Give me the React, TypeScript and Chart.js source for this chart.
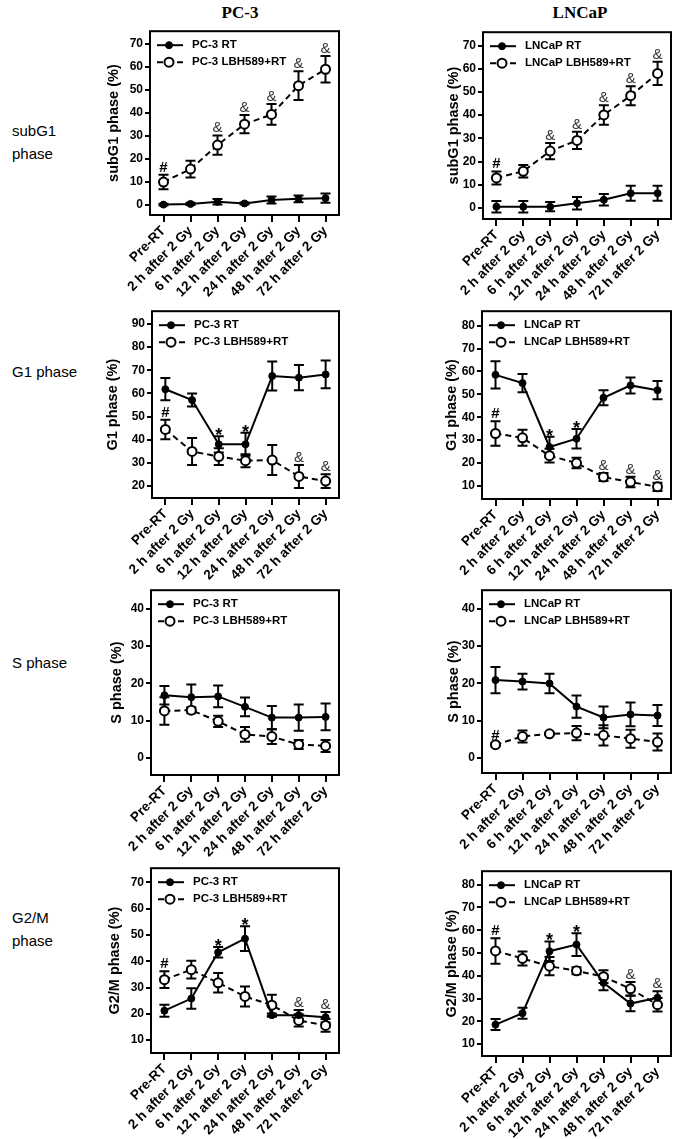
import React, { useEffect, useRef } from "react";
import { Chart, registerables } from "chart.js";
Chart.register(...registerables);

const FONT = '"Liberation Sans", Arial, sans-serif';

const categories = ["Pre-RT", "2 h after 2 Gy", "6 h after 2 Gy", "12 h after 2 Gy", "24 h after 2 Gy", "48 h after 2 Gy", "72 h after 2 Gy"];

// tick labels
const subG1Ticks = [0, 10, 20, 30, 40, 50, 60, 70];
const g1Pc3Ticks = [20, 30, 40, 50, 60, 70, 80, 90];
const g1LncapTicks = [10, 20, 30, 40, 50, 60, 70, 80];
const sTicks = [0, 10, 20, 30, 40];
const g2mPc3Ticks = [10, 20, 30, 40, 50, 60, 70];
const g2mLncapTicks = [10, 20, 30, 40, 50, 60, 70, 80];

const noMarks = ["", "", "", "", "", "", ""];

// subG1 PC-3
const pc3SubG1Rt = [0.2, 0.5, 1.4, 0.7, 2.2, 2.7, 3.0];
const pc3SubG1RtErr = [0.4, 0.5, 1.2, 0.4, 1.5, 1.5, 2.0];
const pc3SubG1Lbh = [10.0, 15.6, 26.0, 35.1, 39.3, 51.8, 58.9];
const pc3SubG1LbhErr = [3.1, 3.6, 4.2, 4.0, 4.5, 6.2, 5.7];
const pc3SubG1LbhMarks = ["#", "", "&", "&", "&", "&", "&"];

// subG1 LNCaP
const lncapSubG1Rt = [0.5, 0.5, 0.5, 2.0, 3.5, 6.3, 6.3];
const lncapSubG1RtErr = [2.5, 2.5, 2.0, 2.7, 2.5, 3.2, 3.2];
const lncapSubG1Lbh = [12.9, 15.8, 24.5, 29.1, 40.1, 48.4, 58.0];
const lncapSubG1LbhErr = [2.8, 2.7, 3.5, 3.7, 4.2, 4.1, 5.0];
const lncapSubG1LbhMarks = ["#", "", "&", "&", "&", "&", "&"];

// G1 PC-3
const pc3G1Rt = [61.8, 57.1, 38.0, 38.0, 67.5, 66.8, 68.2];
const pc3G1RtErr = [4.8, 2.8, 3.5, 5.0, 6.3, 5.5, 6.0];
const pc3G1Lbh = [44.4, 34.9, 32.7, 30.9, 31.2, 24.1, 22.1];
const pc3G1LbhErr = [4.2, 5.8, 3.6, 2.8, 6.5, 5.0, 3.0];
const pc3G1RtMarks = ["", "", "*", "*", "", "", ""];
const pc3G1LbhMarks = ["#", "", "", "", "", "&", "&"];

// G1 LNCaP
const lncapG1Rt = [58.5, 54.9, 27.0, 30.6, 48.5, 53.9, 51.8];
const lncapG1RtErr = [6.0, 4.0, 4.5, 4.3, 3.3, 3.5, 4.0];
const lncapG1Lbh = [32.9, 31.0, 23.2, 20.0, 13.9, 11.7, 9.6];
const lncapG1LbhErr = [5.3, 3.5, 3.0, 2.3, 1.7, 2.3, 1.8];
const lncapG1RtMarks = ["", "", "*", "*", "", "", ""];
const lncapG1LbhMarks = ["#", "", "", "", "&", "&", "&"];

// S PC-3
const pc3SRt = [16.8, 16.3, 16.5, 13.7, 10.8, 10.8, 11.0];
const pc3SRtErr = [2.5, 3.4, 2.9, 2.5, 3.1, 3.5, 3.6];
const pc3SLbh = [12.6, 12.8, 9.8, 6.3, 5.7, 3.6, 3.2];
const pc3SLbhErr = [3.7, 0.8, 1.5, 2.0, 2.0, 1.2, 1.6];

// S LNCaP
const lncapSRt = [20.9, 20.5, 20.0, 13.8, 10.9, 11.7, 11.4];
const lncapSRtErr = [3.5, 2.1, 2.6, 3.0, 2.9, 3.2, 2.8];
const lncapSLbh = [3.6, 5.8, 6.5, 6.7, 6.1, 5.2, 4.3];
const lncapSLbhErr = [0.4, 1.6, 0.3, 1.9, 2.7, 2.4, 2.3];
const lncapSLbhMarks = ["#", "", "", "", "", "", ""];

// G2/M PC-3
const pc3G2mRt = [21.2, 25.8, 43.4, 48.6, 19.5, 19.5, 18.7];
const pc3G2mRtErr = [2.3, 3.9, 2.0, 4.7, 0.6, 2.0, 2.0];
const pc3G2mLbh = [33.0, 36.8, 31.8, 26.6, 23.3, 17.5, 15.6];
const pc3G2mLbhErr = [3.2, 3.4, 3.7, 3.8, 4.0, 2.3, 2.4];
const pc3G2mRtMarks = ["", "", "*", "*", "", "", ""];
const pc3G2mLbhMarks = ["#", "", "", "", "", "&", "&"];

// G2/M LNCaP
const lncapG2mRt = [18.6, 23.6, 50.8, 53.7, 36.9, 27.8, 30.4];
const lncapG2mRtErr = [2.4, 2.4, 4.3, 5.0, 3.3, 3.4, 2.8];
const lncapG2mLbh = [50.9, 47.6, 44.2, 42.2, 39.6, 34.3, 27.3];
const lncapG2mLbhErr = [5.6, 3.1, 4.0, 1.5, 2.8, 3.0, 3.0];
const lncapG2mRtMarks = ["", "", "*", "*", "", "", ""];
const lncapG2mLbhMarks = ["#", "", "", "", "", "&", "&"];

const pc3Names = ["PC-3 RT", "PC-3 LBH589+RT"];
const lncapNames = ["LNCaP RT", "LNCaP LBH589+RT"];

// layout: box = [left, top, right, bottom] in page pixels
const panels = [
  { box: [150, 28, 339, 215], yMin: -4.3, yMax: 75.4, yW: 45, ticks: subG1Ticks, title: "subG1 phase (%)", names: pc3Names, rt: pc3SubG1Rt, rtErr: pc3SubG1RtErr, lbh: pc3SubG1Lbh, lbhErr: pc3SubG1LbhErr, rtMarks: noMarks, lbhMarks: pc3SubG1LbhMarks },
  { box: [483, 29, 671, 219], yMin: -4.8, yMax: 75.8, yW: 38, ticks: subG1Ticks, title: "subG1 phase (%)", names: lncapNames, rt: lncapSubG1Rt, rtErr: lncapSubG1RtErr, lbh: lncapSubG1Lbh, lbhErr: lncapSubG1LbhErr, rtMarks: noMarks, lbhMarks: lncapSubG1LbhMarks },
  { box: [152, 308, 339, 498], yMin: 14.8, yMax: 95.5, yW: 48, ticks: g1Pc3Ticks, title: "G1 phase (%)", names: pc3Names, rt: pc3G1Rt, rtErr: pc3G1RtErr, lbh: pc3G1Lbh, lbhErr: pc3G1LbhErr, rtMarks: pc3G1RtMarks, lbhMarks: pc3G1LbhMarks },
  { box: [482, 308, 671, 499], yMin: 4.3, yMax: 86.3, yW: 39, ticks: g1LncapTicks, title: "G1 phase (%)", names: lncapNames, rt: lncapG1Rt, rtErr: lncapG1RtErr, lbh: lncapG1Lbh, lbhErr: lncapG1LbhErr, rtMarks: lncapG1RtMarks, lbhMarks: lncapG1LbhMarks },
  { box: [151, 587, 339, 775], yMin: -4.6, yMax: 45, yW: 43, ticks: sTicks, title: "S phase (%)", names: pc3Names, rt: pc3SRt, rtErr: pc3SRtErr, lbh: pc3SLbh, lbhErr: pc3SLbhErr, rtMarks: noMarks, lbhMarks: noMarks },
  { box: [482, 587, 671, 773], yMin: -4.0, yMax: 45, yW: 37, ticks: sTicks, title: "S phase (%)", names: lncapNames, rt: lncapSRt, rtErr: lncapSRtErr, lbh: lncapSLbh, lbhErr: lncapSLbhErr, rtMarks: noMarks, lbhMarks: lncapSLbhMarks },
  { box: [151, 865, 339, 1053], yMin: 5.1, yMax: 75.4, yW: 45, ticks: g2mPc3Ticks, title: "G2/M phase (%)", names: pc3Names, rt: pc3G2mRt, rtErr: pc3G2mRtErr, lbh: pc3G2mLbh, lbhErr: pc3G2mLbhErr, rtMarks: pc3G2mRtMarks, lbhMarks: pc3G2mLbhMarks },
  { box: [482, 868, 671, 1056], yMin: 4.8, yMax: 85.9, yW: 39, ticks: g2mLncapTicks, title: "G2/M phase (%)", names: lncapNames, rt: lncapG2mRt, rtErr: lncapG2mRtErr, lbh: lncapG2mLbh, lbhErr: lncapG2mLbhErr, rtMarks: lncapG2mRtMarks, lbhMarks: lncapG2mLbhMarks },
];

const PT = 6, PR = 8, PB = 4, XH = 88;

const errorBarPlugin = {
  id: "errorBars",
  beforeDatasetsDraw(chart: any) {
    const ctx = chart.ctx;
    const y = chart.scales.y;
    ctx.save();
    ctx.strokeStyle = "#000";
    ctx.lineWidth = 2;
    ctx.setLineDash([]);
    chart.data.datasets.forEach((ds: any, di: number) => {
      const meta = chart.getDatasetMeta(di);
      ds.data.forEach((v: number, i: number) => {
        const e = ds.errors[i];
        const x = meta.data[i].x;
        const yt = y.getPixelForValue(v + e);
        const yb = y.getPixelForValue(v - e);
        ctx.beginPath();
        ctx.moveTo(x, yt); ctx.lineTo(x, yb);
        ctx.moveTo(x - 5, yt); ctx.lineTo(x + 5, yt);
        ctx.moveTo(x - 5, yb); ctx.lineTo(x + 5, yb);
        ctx.stroke();
      });
    });
    ctx.restore();
  },
};

const framePlugin = {
  id: "frame",
  afterDraw(chart: any) {
    const { left, top, right, bottom } = chart.chartArea;
    const ctx = chart.ctx;
    ctx.save();
    ctx.strokeStyle = "#000";
    ctx.lineWidth = 2;
    ctx.setLineDash([]);
    ctx.strokeRect(left, top, right - left, bottom - top);
    ctx.restore();
  },
};

const legendPlugin = {
  id: "innerLegend",
  afterDatasetsDraw(chart: any) {
    const { left, top } = chart.chartArea;
    const ctx = chart.ctx;
    ctx.save();
    chart.data.datasets.forEach((ds: any, i: number) => {
      const yy = top + 14 + i * 17;
      ctx.strokeStyle = "#000";
      ctx.lineWidth = 2;
      ctx.setLineDash(ds.borderDash || []);
      ctx.beginPath();
      ctx.moveTo(left + 7, yy);
      ctx.lineTo(left + 33, yy);
      ctx.stroke();
      ctx.setLineDash([]);
      ctx.beginPath();
      ctx.arc(left + 19, yy, ds.pointRadius, 0, Math.PI * 2);
      ctx.fillStyle = ds.pointBackgroundColor;
      ctx.fill();
      ctx.lineWidth = ds.pointBorderWidth;
      ctx.stroke();
      ctx.fillStyle = "#000";
      ctx.font = `bold 11.5px ${FONT}`;
      ctx.textBaseline = "middle";
      ctx.textAlign = "left";
      ctx.fillText(ds.label, left + 42, yy);
    });
    ctx.restore();
  },
};

const marksPlugin = {
  id: "marks",
  afterDatasetsDraw(chart: any) {
    const ctx = chart.ctx;
    const y = chart.scales.y;
    const dss = chart.data.datasets;
    ctx.save();
    ctx.textAlign = "center";
    ctx.textBaseline = "alphabetic";
    dss.forEach((ds: any, di: number) => {
      const other = dss[1 - di];
      const meta = chart.getDatasetMeta(di);
      ds.marks.forEach((m: string, i: number) => {
        if (!m) return;
        let topVal = ds.data[i] + ds.errors[i];
        const oTop = other.data[i] + other.errors[i];
        const oBot = other.data[i] - other.errors[i];
        if (oBot <= topVal + 2 && oTop > topVal) topVal = oTop;
        const px = meta.data[i].x;
        const py = y.getPixelForValue(topVal);
        if (m === "*") {
          ctx.font = `bold 18px ${FONT}`;
          ctx.fillStyle = "#000";
          ctx.fillText(m, px, py + 5);
        } else if (m === "#") {
          ctx.font = `bold 15px ${FONT}`;
          ctx.fillStyle = "#000";
          ctx.fillText(m, px, py - 3);
        } else {
          ctx.font = `15px ${FONT}`;
          ctx.fillStyle = "#333";
          ctx.fillText(m, px, py - 3);
        }
      });
    });
    ctx.restore();
  },
};

function Panel({ p }: { p: any }) {
  const ref = useRef<HTMLCanvasElement>(null);
  const [bl, bt, br, bb] = p.box;
  const width = p.yW + (br - bl) + PR;
  const height = PT + (bb - bt) + XH + PB;
  useEffect(() => {
    const chart = new Chart(ref.current as HTMLCanvasElement, {
      type: "line",
      data: {
        labels: categories,
        datasets: [
          {
            label: p.names[0], data: p.rt, errors: p.rtErr, marks: p.rtMarks,
            borderColor: "#000", backgroundColor: "#000", borderWidth: 2,
            pointRadius: 3.5, pointBackgroundColor: "#000", pointBorderColor: "#000", pointBorderWidth: 1,
            tension: 0, fill: false,
          } as any,
          {
            label: p.names[1], data: p.lbh, errors: p.lbhErr, marks: p.lbhMarks,
            borderColor: "#000", backgroundColor: "#fff", borderWidth: 2, borderDash: [6, 4],
            pointRadius: 4.5, pointBackgroundColor: "#fff", pointBorderColor: "#000", pointBorderWidth: 2,
            tension: 0, fill: false,
          } as any,
        ],
      },
      options: {
        animation: false,
        responsive: false,
        devicePixelRatio: 1,
        layout: { padding: { top: PT, right: PR, bottom: PB, left: 0 } },
        plugins: { legend: { display: false }, tooltip: { enabled: false } },
        scales: {
          x: {
            type: "category",
            offset: true,
            grid: { drawOnChartArea: false, drawTicks: true, tickLength: 7, color: "#000", lineWidth: 2 },
            border: { display: false },
            ticks: {
              color: "#000", font: { family: FONT, size: 13.5, weight: "bold" },
              minRotation: 45, maxRotation: 45, autoSkip: false, padding: 1,
            },
            afterFit: (s: any) => { s.height = XH; },
          },
          y: {
            type: "linear",
            min: p.yMin, max: p.yMax,
            afterBuildTicks: (s: any) => { s.ticks = p.ticks.map((v: number) => ({ value: v })); },
            grid: { drawOnChartArea: false, drawTicks: true, tickLength: 5, color: "#000", lineWidth: 2 },
            border: { display: false },
            ticks: { color: "#000", font: { family: FONT, size: 12, weight: "bold" }, padding: 2 },
            title: { display: true, text: p.title, color: "#000", font: { family: FONT, size: 14.5, weight: "bold" }, padding: { top: 0, bottom: 0 } },
            afterFit: (s: any) => { s.width = p.yW; },
          },
        },
      } as any,
      plugins: [errorBarPlugin, legendPlugin, marksPlugin, framePlugin],
    });
    return () => chart.destroy();
  }, []);
  return (
    <canvas
      ref={ref}
      width={width}
      height={height}
      style={{ position: "absolute", left: bl - p.yW, top: bt - PT, width, height }}
    />
  );
}

const rowLabelStyle: React.CSSProperties = {
  position: "absolute", left: 12, fontFamily: FONT, fontSize: 15, lineHeight: "23px", color: "#000",
};
const colTitleStyle: React.CSSProperties = {
  position: "absolute", top: 2, width: 120, textAlign: "center", fontFamily: '"Liberation Serif", "Times New Roman", serif',
  fontWeight: "bold", fontSize: 17, lineHeight: "22px", color: "#000",
};

export default function App() {
  return (
    <div style={{ position: "absolute", left: 0, top: 0, width: 682, height: 1139, background: "#fff", overflow: "hidden" }}>
      <div style={{ ...colTitleStyle, left: 180 }}>PC-3</div>
      <div style={{ ...colTitleStyle, left: 520 }}>LNCaP</div>
      <div style={{ ...rowLabelStyle, top: 119 }}>subG1<br />phase</div>
      <div style={{ ...rowLabelStyle, top: 360 }}>G1 phase</div>
      <div style={{ ...rowLabelStyle, top: 651 }}>S phase</div>
      <div style={{ ...rowLabelStyle, top: 906 }}>G2/M<br />phase</div>
      {panels.map((p, i) => <Panel key={i} p={p} />)}
    </div>
  );
}
